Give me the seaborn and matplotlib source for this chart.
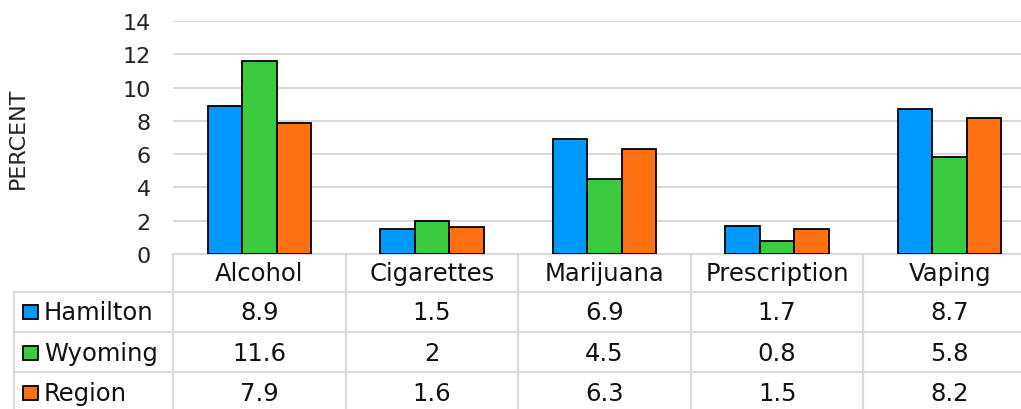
import pandas as pd
import numpy as np
import seaborn as sns
import matplotlib.pyplot as plt
from matplotlib.transforms import blended_transform_factory
from matplotlib.patches import Rectangle

substances = ["Alcohol", "Cigarettes", "Marijuana", "Prescription", "Vaping"]
groups = ["Hamilton", "Wyoming", "Region"]
hamilton = [8.9, 1.5, 6.9, 1.7, 8.7]
wyoming = [11.6, 2, 4.5, 0.8, 5.8]
region = [7.9, 1.6, 6.3, 1.5, 8.2]
colors = ["#0099FF", "#3ACC3E", "#FF7010"]

values = {"Hamilton": hamilton, "Wyoming": wyoming, "Region": region}
df = pd.DataFrame([(s, g, values[g][i]) for g in groups for i, s in enumerate(substances)],
                  columns=["substance", "group", "pct"])

sns.set_theme(style="white")
plt.rcParams['font.family'] = ['DejaVu Sans']
W, H = 1021, 410
fig = plt.figure(figsize=(W / 100, H / 100), dpi=100)

def fx(px):
    return px / W

def fy(py):
    return 1 - py / H

ax = fig.add_axes([fx(173), fy(255), fx(1036) - fx(173), fy(22) - fy(255)])
sns.barplot(data=df, x="substance", y="pct", hue="group", order=substances, hue_order=groups,
            palette=colors, width=0.6, gap=0, edgecolor="black", linewidth=1.3,
            saturation=1, ax=ax, legend=False, zorder=3)

ax.set_xlim(-0.5, len(substances) - 0.5)
ax.set_ylim(0, 14)
ax.set_yticks(np.arange(0, 15, 2))
ax.yaxis.grid(True, color="#d9d9d9", linewidth=1.5, zorder=0)
ax.set_xticks([])
ax.set_xlabel("")
ax.set_ylabel("PERCENT", fontsize=16, color="#222222")
ax.yaxis.set_label_coords((28 - 173) / (1036 - 173), 0.5)
ax.tick_params(axis="y", labelsize=16, colors="#222222", length=0, pad=16)
for sp in ax.spines.values():
    sp.set_visible(False)

# data table under the chart
tr = blended_transform_factory(ax.transData, fig.transFigure)
gc = "#d9d9d9"
lw = 1.6
row_edges = [255, 293, 333, 373, 413]
row_mid = [274, 313, 354, 394]
fs = 17.5

# vertical dividers
for k in range(len(substances) + 1):
    ax.plot([k - 0.5, k - 0.5], [fy(row_edges[0]), fy(row_edges[-1])], color=gc, lw=lw,
            transform=tr, clip_on=False, zorder=1)
# top border across the category columns
ax.plot([-0.5, len(substances) - 0.5], [fy(255), fy(255)], color=gc, lw=lw,
        transform=tr, clip_on=False)
# row lines (full width, including label column)
for yy in row_edges[1:-1]:
    fig.add_artist(plt.Line2D([fx(14), 1], [fy(yy), fy(yy)], color=gc, lw=lw))
fig.add_artist(plt.Line2D([fx(14), fx(14)], [fy(293), fy(413)], color=gc, lw=lw))

for i, s in enumerate(substances):
    ax.text(i, fy(row_mid[0]), s, transform=tr, ha="center", va="center",
            fontsize=fs, color="#111111")
    for r, g in enumerate(groups):
        v = values[g][i]
        ax.text(i, fy(row_mid[r + 1]), f"{v:g}", transform=tr, ha="center", va="center",
                fontsize=fs, color="#111111")

for r, g in enumerate(groups):
    yc = row_mid[r + 1]
    fig.add_artist(Rectangle((fx(23), fy(yc + 7)), fx(15), fy(yc - 7) - fy(yc + 7),
                             facecolor=colors[r], edgecolor="black", lw=1.3))
    fig.text(fx(44), fy(yc), g, ha="left", va="center", fontsize=fs, color="#111111")

fig.savefig("out.png", dpi=100)
